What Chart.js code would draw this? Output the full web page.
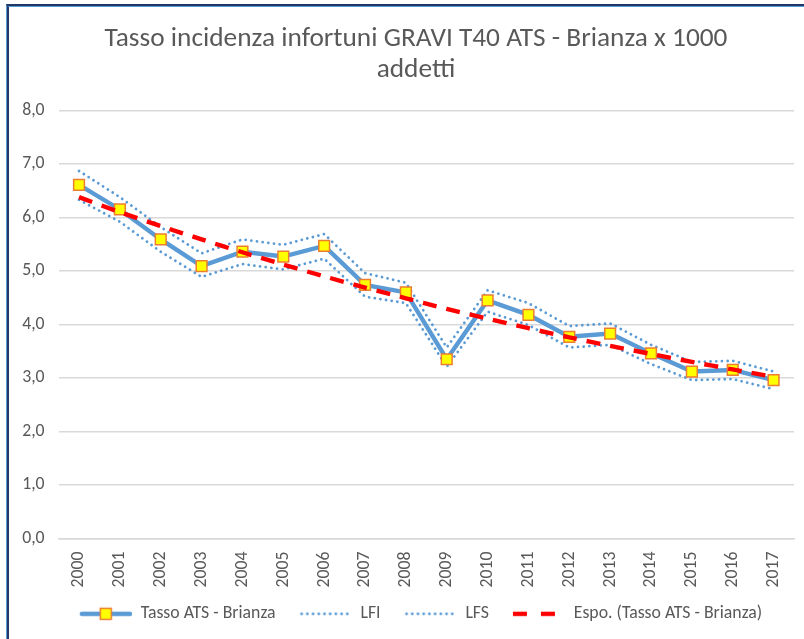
<!DOCTYPE html>
<html>
<head>
<meta charset="utf-8">
<script src="https://cdn.jsdelivr.net/npm/chart.js@4/dist/chart.umd.min.js"></script>
<style>
  html, body { margin: 0; padding: 0; background: #ffffff; }
  #wrap { position: relative; width: 804px; height: 639px; overflow: hidden; background: #fff; }
  #c { position: absolute; left: 0; top: 0; }
  .f1 { position: absolute; left: 6px; top: 4px; width: 900px; height: 700px; border-top: 2px solid #1F3864; border-left: 1px solid #5B9BD5; pointer-events: none; }
  .f2 { position: absolute; left: 7px; top: 6px; width: 900px; height: 700px; border-top: 1px solid #5B9BD5; border-left: 2px solid #1F3864; pointer-events: none; }
</style>
</head>
<body>
<div id="wrap">
  <canvas id="c" width="804" height="639"></canvas>
  <div class="f1"></div>
  <div class="f2"></div>
</div>
<script>
// ---- data ----
const years = ['2000','2001','2002','2003','2004','2005','2006','2007','2008','2009','2010','2011','2012','2013','2014','2015','2016','2017'];
const tassoATS = [6.61, 6.15, 5.59, 5.09, 5.36, 5.27, 5.47, 4.74, 4.60, 3.35, 4.45, 4.18, 3.77, 3.83, 3.46, 3.12, 3.15, 2.96];
const lfi      = [6.33, 5.92, 5.36, 4.89, 5.13, 5.03, 5.23, 4.52, 4.40, 3.21, 4.24, 3.99, 3.57, 3.62, 3.26, 2.96, 2.98, 2.79];
const lfs      = [6.87, 6.38, 5.82, 5.33, 5.59, 5.49, 5.69, 4.96, 4.78, 3.57, 4.64, 4.40, 3.97, 4.02, 3.62, 3.30, 3.32, 3.12];
const trendEsp = [6.38, 6.10, 5.84, 5.59, 5.35, 5.12, 4.90, 4.69, 4.49, 4.29, 4.11, 3.93, 3.76, 3.60, 3.45, 3.30, 3.16, 3.02];
const seriesNames = ['Tasso ATS - Brianza', 'LFI', 'LFS', 'Espo. (Tasso ATS - Brianza)'];
const titleLines = ['Tasso incidenza infortuni GRAVI T40 ATS - Brianza x 1000', 'addetti'];
const yTicks = [0, 1, 2, 3, 4, 5, 6, 7, 8];

// ---- styling ----
const FAMILY = 'Carlito, Lato, "Open Sans", sans-serif';
const TEXT = '#595959';
const BLUE = '#5B9BD5';
function fitSize(text, target) {
  const c = document.createElement('canvas').getContext('2d');
  c.font = '100px ' + FAMILY;
  return 100 * target / c.measureText(text).width;
}
const titleSize = fitSize(titleLines[0], 623);
const smallSize = fitSize(seriesNames[0], 135);

function sample(kind) {
  const w = 66, h = 16;
  const cv = document.createElement('canvas');
  cv.width = w; cv.height = h;
  const g = cv.getContext('2d');
  const x0 = 14, x1 = 66, y = 8;
  g.beginPath();
  if (kind === 'main') {
    g.strokeStyle = BLUE; g.lineWidth = 4.4; g.lineCap = 'round';
    g.moveTo(x0 + 2, y); g.lineTo(x1 - 2, y); g.stroke();
    g.fillStyle = '#FFFF00'; g.strokeStyle = '#ED7D31'; g.lineWidth = 1.5;
    g.fillRect(40 - 5.5, y - 5.5, 11, 11);
    g.strokeRect(40 - 5.5, y - 5.5, 11, 11);
  } else if (kind === 'dot') {
    g.strokeStyle = BLUE; g.lineWidth = 2.8; g.lineCap = 'round';
    g.setLineDash([0.01, 5.7]);
    g.moveTo(x0 + 2, y); g.lineTo(x1 - 1, y); g.stroke();
  } else {
    g.strokeStyle = '#FF0000'; g.lineWidth = 4.4; g.lineCap = 'butt';
    g.setLineDash([14, 14]);
    g.moveTo(x0, y); g.lineTo(x0 + 43, y); g.stroke();
  }
  return cv;
}
const legendImgs = [sample('main'), sample('dot'), sample('dot'), sample('dash')];

// shift the title and legend boxes so they centre like the reference
const shiftPlugin = {
  id: 'shiftBoxes',
  afterLayout: function (ch) {
    if (ch.titleBlock) { ch.titleBlock.left += 18; }
    if (ch.legend) { ch.legend.left += 14; }
  }
};

const chart = new Chart(document.getElementById('c'), {
  type: 'line',
  plugins: [shiftPlugin],
  data: {
    labels: years,
    datasets: [
      {
        label: seriesNames[0], data: tassoATS, order: 1,
        borderColor: BLUE, borderWidth: 4.4, tension: 0,
        pointStyle: 'rect', pointRadius: 7.6, pointHoverRadius: 7.6,
        pointBackgroundColor: '#FFFF00', pointBorderColor: '#ED7D31', pointBorderWidth: 1.5
      },
      {
        label: seriesNames[1], data: lfi, order: 2,
        borderColor: BLUE, borderWidth: 2.8, borderDash: [0.01, 5.7], borderCapStyle: 'round',
        pointRadius: 0, tension: 0
      },
      {
        label: seriesNames[2], data: lfs, order: 2,
        borderColor: BLUE, borderWidth: 2.8, borderDash: [0.01, 5.7], borderCapStyle: 'round',
        pointRadius: 0, tension: 0
      },
      {
        label: seriesNames[3], data: trendEsp, order: 0,
        borderColor: '#FF0000', borderWidth: 4.4, borderDash: [14, 10], borderCapStyle: 'butt',
        pointRadius: 0, tension: 0.3
      }
    ]
  },
  options: {
    responsive: false,
    animation: false,
    events: [],
    layout: { padding: { left: 20, right: 10, top: 0, bottom: 6.3 } },
    plugins: {
      tooltip: { enabled: false },
      title: {
        display: true,
        text: titleLines,
        color: TEXT,
        font: { family: FAMILY, size: titleSize, weight: 'normal', lineHeight: 31 / titleSize },
        padding: { top: 24, bottom: 24.5 }
      },
      legend: {
        position: 'bottom',
        labels: {
          usePointStyle: true,
          pointStyleWidth: 66,
          padding: 10,
          color: TEXT,
          font: { family: FAMILY, size: smallSize },
          sort: function (a, b) { return a.datasetIndex - b.datasetIndex; },
          generateLabels: function (ch) {
            const items = Chart.defaults.plugins.legend.labels.generateLabels(ch);
            items.forEach(function (it) { it.pointStyle = legendImgs[it.datasetIndex]; it.fontColor = TEXT; });
            return items;
          }
        }
      }
    },
    scales: {
      x: {
        offset: true,
        grid: { display: false, drawTicks: false },
        border: { display: true, color: '#D9D9D9', width: 1.5 },
        ticks: {
          autoSkip: false, minRotation: 90, maxRotation: 90, padding: 13,
          color: TEXT, font: { family: FAMILY, size: smallSize }
        },
        afterFit: function (s) { s.height = 56.5; s.paddingLeft = 0; s.paddingRight = 0; }
      },
      y: {
        min: 0, max: 8,
        afterBuildTicks: function (s) { s.ticks = yTicks.map(function (v) { return { value: v }; }); },
        grid: { color: '#D9D9D9', lineWidth: 1.5, drawTicks: false },
        border: { display: false },
        ticks: {
          padding: 14, color: TEXT, font: { family: FAMILY, size: smallSize },
          callback: function (v) { return Number(v).toFixed(1).replace('.', ','); }
        },
        afterFit: function (s) { s.width = 38.6; }
      }
    }
  }
});
</script>
</body>
</html>
